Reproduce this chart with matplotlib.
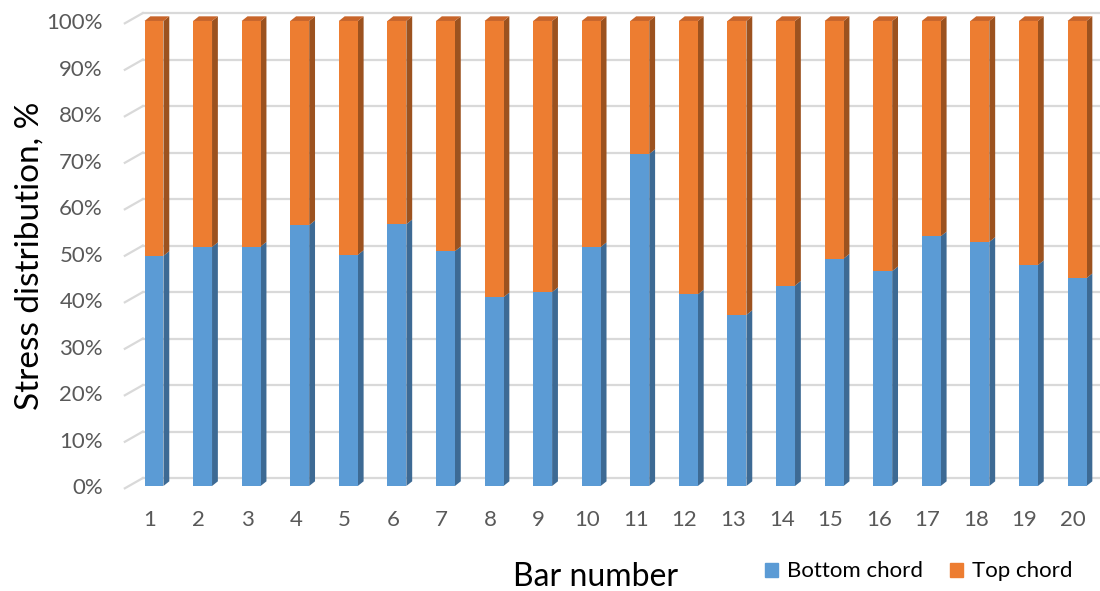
import numpy as np
import matplotlib.pyplot as plt
from matplotlib.patches import Polygon, Patch

bars = np.arange(1, 21)
bottom_chord = [49.5, 51.4, 51.5, 56.1, 49.7, 56.3, 50.5, 40.6, 41.7, 51.4,
                71.4, 41.2, 36.8, 43.1, 48.9, 46.2, 53.7, 52.5, 47.5, 44.7]
top_chord = [100 - b for b in bottom_chord]
pct_ticks = np.arange(0, 101, 10)

blue, blue_side = '#5b9bd5', '#3d6a94'
orange, orange_side, orange_top = '#ed7d31', '#9c521f', '#c8652a'
grid_col = '#d9d9d9'

plt.rcParams['font.family'] = ['Lato', 'DejaVu Sans']

fig = plt.figure(figsize=(11, 5.91), dpi=100)
ax = fig.add_axes([0.1179, 0.1777, 0.8833, 0.7868])
ax.set_xlim(0.5, 20.5)
ax.set_ylim(0, 100)
ax.axis('off')

w = 0.39            # width of the front face
dx, dy = 0.12, 1.0  # depth offset of each column
wall_x0, wall_x1 = 0.40, 0.77

# side wall + back wall gridlines
for v in pct_ticks:
    ax.plot([wall_x0, wall_x1], [v - 0.5, v + 1.7], color=grid_col, lw=1.6,
            clip_on=False, zorder=1)
    ax.plot([wall_x1, 20.5], [v + 1.7, v + 1.7], color=grid_col, lw=1.6,
            clip_on=False, zorder=1)
    ax.text(-0.05, v - 0.5, f'{v}%', ha='right', va='center', fontsize=16,
            color='#595959')

# front faces
ax.bar(bars, bottom_chord, width=w, color=blue, zorder=3, clip_on=False)
ax.bar(bars, top_chord, width=w, bottom=bottom_chord, color=orange, zorder=3,
       clip_on=False)

# side and top faces
for x, b in zip(bars, bottom_chord):
    xr = x + w / 2
    for y0, y1, c in [(0, b, blue_side), (b, 100, orange_side)]:
        ax.add_patch(Polygon([(xr, y0), (xr, y1), (xr + dx, y1 + dy), (xr + dx, y0 + dy)],
                             closed=True, color=c, lw=0, zorder=2, clip_on=False))
    ax.add_patch(Polygon([(x - w / 2, 100), (xr, 100), (xr + dx, 100 + dy),
                          (x - w / 2 + dx, 100 + dy)],
                         closed=True, color=orange_top, lw=0, zorder=2, clip_on=False))
    ax.text(x - 0.08, -7.3, str(x), ha='center', va='center', fontsize=16,
            color='#595959')

fig.text(0.027, 0.567, 'Stress distribution, %', rotation=90, ha='center',
         va='center', fontsize=24)
fig.text(0.541, 0.024, 'Bar number', ha='center', va='center', fontsize=23)

handles = [Patch(color=blue, label='Bottom chord'), Patch(color=orange, label='Top chord')]
fig.legend(handles=handles, loc='center', bbox_to_anchor=(0.835, 0.033), ncol=2,
           frameon=False, fontsize=16, handlelength=0.6, handleheight=0.6,
           handletextpad=0.4, columnspacing=1.2)

fig.savefig('out.png', dpi=100)
